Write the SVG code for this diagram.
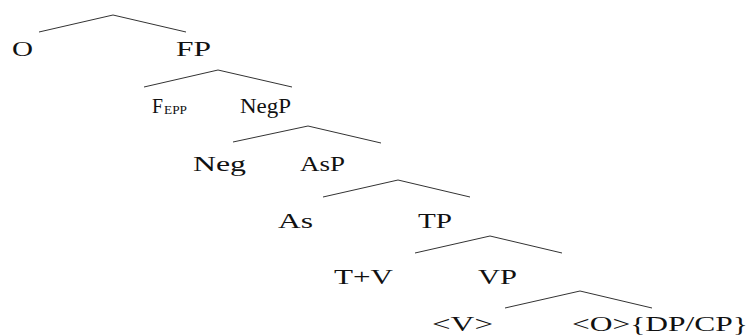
<svg xmlns="http://www.w3.org/2000/svg" width="750" height="336" viewBox="0 0 750 336">
  <style>
    .lbl { font-family: "Liberation Serif", "Times New Roman", serif; font-size: 20px; fill: #111; }
    .sub { font-family: "Liberation Serif", "Times New Roman", serif; font-size: 13px; fill: #111; }
    .edge { stroke: #333; stroke-width: 1; fill: none; }
  </style>
  <rect width="750" height="336" fill="#fff"/>
  <g id="connectors">
    <polyline class="edge" points="39,32 113,15 186,32"/>
    <polyline class="edge" points="144,87 218,70 292,87"/>
    <polyline class="edge" points="233,142 308,126 381,143"/>
    <polyline class="edge" points="323,197 398,180 470,197"/>
    <polyline class="edge" points="415,253 490,236 562,253"/>
    <polyline class="edge" points="505,308 580,291 652,308"/>
  </g>
  <g id="node-O"><text class="lbl" x="12" y="56" textLength="21" lengthAdjust="spacingAndGlyphs">O</text></g>
  <g id="node-FP"><text class="lbl" x="176" y="56" textLength="35" lengthAdjust="spacingAndGlyphs">FP</text></g>
  <g id="node-FEPP">
    <text class="lbl" x="152" y="113" textLength="11" lengthAdjust="spacingAndGlyphs">F</text>
    <text class="sub" x="164" y="114" textLength="23" lengthAdjust="spacingAndGlyphs">EPP</text>
  </g>
  <g id="node-NegP"><text class="lbl" x="240" y="113" textLength="51" lengthAdjust="spacingAndGlyphs">NegP</text></g>
  <g id="node-Neg"><text class="lbl" x="193" y="171" textLength="53" lengthAdjust="spacingAndGlyphs">Neg</text></g>
  <g id="node-AsP"><text class="lbl" x="300" y="171" textLength="45" lengthAdjust="spacingAndGlyphs">AsP</text></g>
  <g id="node-As"><text class="lbl" x="278" y="228" textLength="35" lengthAdjust="spacingAndGlyphs">As</text></g>
  <g id="node-TP"><text class="lbl" x="418" y="228" textLength="34" lengthAdjust="spacingAndGlyphs">TP</text></g>
  <g id="node-TV"><text class="lbl" x="334" y="284" textLength="59" lengthAdjust="spacingAndGlyphs">T+V</text></g>
  <g id="node-VP"><text class="lbl" x="478" y="284" textLength="39" lengthAdjust="spacingAndGlyphs">VP</text></g>
  <g id="node-V"><text class="lbl" x="432" y="331" textLength="61" lengthAdjust="spacingAndGlyphs">&lt;V&gt;</text></g>
  <g id="node-O-DPCP"><text class="lbl" x="572" y="331" textLength="176" lengthAdjust="spacingAndGlyphs">&lt;O&gt;{DP/CP}</text></g>
</svg>
